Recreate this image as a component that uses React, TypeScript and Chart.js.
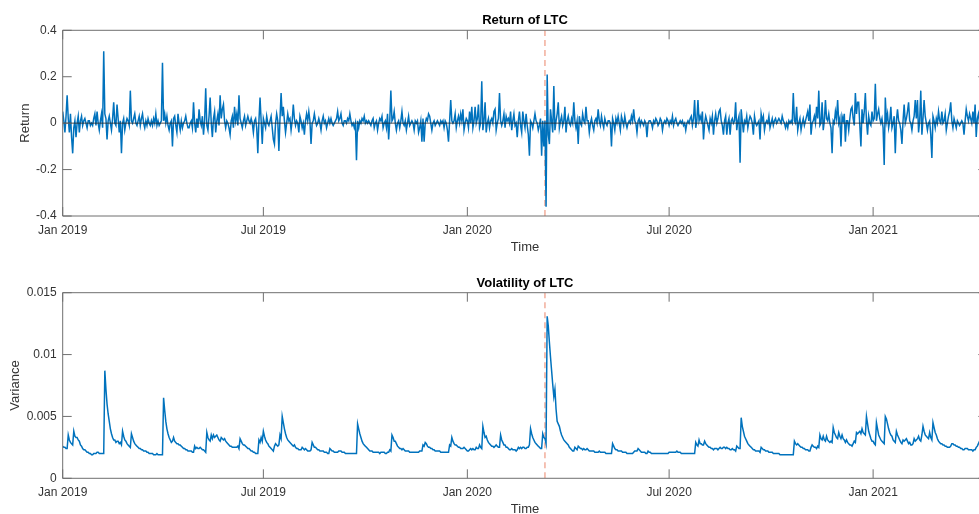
import React, { useEffect, useRef } from 'react';
import { Chart, registerables } from 'chart.js';

Chart.register(...registerables);

// ---- data (daily, day 0 = 1 Jan 2019) ----
const xTickDays = [0, 181, 365, 547, 731];
const xTickLabels = ['Jan 2019', 'Jul 2019', 'Jan 2020', 'Jul 2020', 'Jan 2021'];
const xMaxDay = 834;
const eventDay = 435; // 11 Mar 2020
const returnTicks = [-0.4, -0.2, 0, 0.2, 0.4];
const varianceTicks = [0, 0.005, 0.01, 0.015];

const returns = [
  0.05, 0.01, -0.04, 0.03, 0.12, 0.02, -0.04, 0.04, -0.06, -0.13,
  -0.02, 0.01, -0.06, 0.00, 0.03, -0.04, 0.01, 0.03, -0.01, 0.01,
  0.02, 0.00, -0.02, 0.01, 0.01, -0.01, 0.00, -0.01, 0.02, 0.04,
  -0.01, 0.05, 0.00, -0.03, 0.01, 0.04, -0.02, 0.31, 0.04, 0.02,
  -0.07, 0.01, 0.03, 0.00, -0.03, 0.02, 0.09, 0.00, -0.01, 0.08,
  0.02, -0.04, 0.01, -0.13, 0.00, 0.02, -0.03, 0.00, 0.02, 0.01,
  -0.01, 0.14, 0.01, 0.00, 0.02, 0.04, 0.00, -0.01, 0.01, 0.03,
  -0.01, 0.02, 0.04, 0.00, -0.02, 0.01, -0.01, 0.02, 0.00, -0.01,
  0.01, -0.01, 0.02, 0.00, 0.04, -0.01, 0.01, -0.01, 0.00, 0.01,
  0.26, 0.01, 0.04, 0.00, 0.03, -0.01, -0.03, 0.00, 0.01, -0.10,
  0.02, 0.03, -0.01, -0.04, 0.04, 0.00, -0.03, 0.01, -0.02, 0.00,
  0.01, 0.03, 0.00, -0.02, -0.02, 0.00, 0.01, -0.02, 0.09, 0.00,
  -0.04, 0.02, -0.02, 0.06, 0.01, -0.01, 0.03, -0.05, 0.01, 0.15,
  -0.01, -0.03, 0.03, 0.11, 0.00, -0.06, 0.02, 0.05, -0.04, 0.01,
  0.04, -0.01, 0.12, 0.02, 0.06, 0.08, 0.01, -0.02, 0.01, 0.00,
  -0.02, -0.05, 0.01, 0.03, -0.02, 0.07, 0.01, 0.04, -0.01, 0.12,
  0.02, 0.00, -0.02, 0.01, 0.03, -0.01, 0.01, 0.03, 0.01, 0.00,
  0.02, 0.00, -0.04, 0.01, 0.02, -0.02, -0.13, 0.01, 0.11, 0.01,
  -0.09, 0.02, 0.00, -0.02, 0.03, 0.00, -0.01, 0.01, 0.03, -0.02,
  -0.07, -0.09, 0.00, 0.04, 0.01, -0.12, 0.02, 0.13, 0.03, 0.07,
  0.01, -0.04, 0.00, 0.04, 0.01, 0.02, -0.03, 0.01, 0.08, 0.02,
  -0.01, 0.01, 0.00, -0.04, 0.03, 0.01, -0.02, 0.00, -0.05, 0.01,
  0.04, 0.01, 0.05, 0.01, -0.09, 0.00, 0.01, 0.04, 0.01, -0.01,
  0.00, 0.02, 0.00, -0.03, 0.01, 0.03, 0.00, 0.01, -0.02, 0.00,
  0.02, 0.00, 0.02, 0.00, -0.01, 0.00, 0.01, 0.02, 0.05, 0.01,
  0.02, 0.04, 0.00, -0.01, 0.01, 0.01, 0.00, 0.02, 0.01, 0.04,
  0.01, -0.01, 0.00, -0.02, 0.00, -0.16, 0.01, -0.02, 0.01, 0.00,
  0.02, 0.01, 0.03, 0.00, 0.01, 0.00, 0.01, 0.00, -0.01, 0.01,
  0.02, -0.02, 0.00, 0.01, -0.03, 0.00, 0.02, 0.01, 0.03, -0.02,
  0.00, 0.01, -0.02, 0.04, -0.07, 0.01, 0.14, 0.01, 0.02, 0.05,
  0.00, -0.03, 0.00, 0.01, -0.02, 0.01, 0.05, 0.00, -0.01, 0.01,
  -0.03, 0.00, 0.03, -0.01, 0.00, 0.01, 0.00, -0.03, 0.01, 0.00,
  0.01, -0.04, -0.02, 0.01, -0.08, 0.02, -0.08, 0.00, 0.02, 0.01,
  0.04, 0.03, 0.00, -0.03, 0.00, 0.01, -0.01, 0.00, 0.01, 0.00,
  -0.01, 0.01, 0.00, 0.01, -0.02, 0.01, 0.00, -0.03, -0.08, 0.01,
  0.10, 0.01, 0.00, 0.01, 0.04, -0.02, 0.01, 0.03, 0.00, 0.04,
  0.01, 0.06, -0.03, 0.00, 0.02, 0.01, -0.02, 0.05, 0.00, 0.07,
  -0.02, 0.01, 0.07, 0.00, 0.02, 0.08, -0.02, 0.00, 0.18, -0.03,
  0.01, 0.09, -0.04, 0.00, 0.02, -0.02, 0.01, 0.02, 0.00, 0.05,
  0.06, -0.03, 0.00, 0.02, 0.13, 0.01, -0.01, 0.01, 0.04, -0.02,
  0.03, 0.01, 0.02, 0.00, 0.05, -0.03, 0.01, 0.04, -0.01, 0.00,
  -0.06, 0.01, 0.05, -0.01, -0.04, 0.05, 0.01, -0.02, 0.04, -0.01,
  -0.05, -0.14, 0.01, 0.00, -0.02, 0.01, 0.04, 0.01, 0.00, -0.03,
  -0.01, 0.02, -0.14, 0.01, -0.10, 0.01, -0.36, 0.21, -0.05, -0.09,
  0.06, 0.01, -0.04, 0.16, -0.03, 0.01, 0.04, 0.09, -0.02, 0.01,
  0.03, -0.01, 0.01, 0.07, -0.04, 0.01, 0.03, 0.00, -0.01, 0.02,
  0.00, 0.09, 0.01, -0.02, 0.01, -0.09, 0.03, 0.00, -0.01, 0.04,
  0.01, 0.00, 0.07, 0.01, 0.01, -0.04, 0.00, 0.02, -0.01, -0.03,
  0.01, 0.02, 0.00, 0.06, 0.01, -0.01, 0.03, 0.00, -0.02, 0.02,
  0.00, -0.01, 0.01, 0.01, 0.00, -0.10, 0.02, 0.00, -0.03, 0.02,
  0.00, 0.03, 0.00, -0.03, 0.03, 0.01, -0.01, 0.03, 0.00, -0.02,
  0.00, 0.01, 0.00, 0.03, 0.01, 0.06, 0.01, 0.00, -0.04, 0.01,
  0.02, -0.01, 0.01, 0.00, -0.01, 0.01, 0.00, -0.06, 0.00, 0.01,
  0.01, 0.00, -0.02, 0.01, 0.00, 0.02, 0.01, -0.01, 0.00, 0.02,
  0.01, -0.03, 0.00, 0.01, 0.00, 0.02, 0.01, -0.01, 0.01, 0.00,
  0.03, -0.01, 0.01, 0.02, 0.00, -0.01, 0.00, 0.01, 0.00, 0.01,
  -0.01, 0.00, -0.03, 0.00, 0.01, 0.00, 0.02, 0.03, -0.01, 0.02,
  0.10, -0.02, 0.01, 0.10, 0.01, 0.03, 0.01, 0.05, -0.07, 0.00,
  0.03, 0.01, -0.01, -0.03, 0.02, 0.00, 0.03, -0.05, 0.01, 0.04,
  0.00, 0.02, 0.05, 0.06, 0.01, -0.01, -0.05, 0.01, 0.03, -0.05,
  0.00, 0.02, -0.05, 0.01, 0.02, 0.00, 0.01, 0.09, -0.03, 0.01,
  0.03, -0.17, 0.06, 0.01, -0.04, 0.01, 0.00, 0.03, -0.02, 0.01,
  0.03, 0.02, 0.00, -0.05, 0.03, 0.00, -0.01, 0.00, 0.01, -0.07,
  0.04, 0.01, 0.03, -0.03, 0.00, 0.01, 0.00, 0.03, -0.02, 0.00,
  0.02, -0.01, 0.01, 0.02, 0.00, 0.01, 0.02, 0.01, 0.00, 0.03,
  0.01, 0.00, -0.02, 0.00, -0.02, 0.01, 0.00, 0.01, 0.00, 0.13,
  0.01, 0.00, 0.07, -0.03, 0.00, 0.02, -0.03, 0.00, 0.02, -0.01,
  0.01, 0.03, 0.05, 0.01, 0.08, -0.05, 0.00, 0.01, 0.03, 0.00,
  0.07, 0.02, 0.14, -0.01, 0.00, 0.09, -0.03, 0.01, 0.10, 0.02,
  0.01, 0.04, 0.00, -0.02, -0.13, 0.01, 0.00, 0.05, 0.02, 0.10,
  0.00, 0.02, -0.10, 0.03, 0.01, 0.04, -0.08, 0.01, 0.01, -0.03,
  0.02, 0.06, 0.07, 0.02, -0.01, 0.13, 0.04, 0.09, 0.09, -0.01,
  -0.10, 0.06, 0.00, 0.05, 0.13, 0.01, -0.05, 0.03, 0.00, -0.01,
  0.05, 0.01, 0.02, 0.17, 0.01, 0.04, 0.06, 0.02, 0.00, 0.02,
  -0.02, -0.18, 0.11, 0.01, 0.04, -0.02, 0.01, 0.07, -0.02, 0.00,
  0.03, -0.13, 0.01, 0.06, 0.01, 0.00, -0.03, -0.09, 0.01, 0.08,
  0.00, 0.02, 0.05, 0.09, 0.01, 0.00, -0.03, 0.01, 0.03, 0.10,
  0.02, 0.10, -0.04, 0.01, 0.14, -0.05, 0.02, 0.10, 0.03, 0.00,
  -0.03, 0.00, 0.01, -0.05, -0.15, 0.03, 0.01, -0.02, 0.02, 0.00,
  0.05, 0.01, 0.00, 0.05, 0.00, 0.01, 0.04, -0.03, 0.00, 0.03,
  0.05, 0.09, 0.01, -0.02, 0.02, 0.00, -0.02, 0.01, 0.00, -0.01,
  0.00, 0.01, 0.00, -0.05, 0.01, 0.06, 0.03, 0.01, 0.04, 0.02,
  0.00, 0.05, 0.00, 0.08, -0.06, 0.02, 0.04, 0.00, 0.03, -0.02,
  0.02, 0.03, -0.01, 0.02, 0.01,
];

const variance = [
  0.0026, 0.0025, 0.0025, 0.0024, 0.0024, 0.0035, 0.0031, 0.0029, 0.0028, 0.0027,
  0.0038, 0.0034, 0.0033, 0.0033, 0.0031, 0.0030, 0.0027, 0.0026, 0.0024, 0.0023,
  0.0023, 0.0022, 0.0021, 0.0021, 0.0020, 0.0020, 0.0019, 0.0019, 0.0020, 0.0020,
  0.0020, 0.0021, 0.0021, 0.0020, 0.0020, 0.0020, 0.0020, 0.0020, 0.0087, 0.0072,
  0.0060, 0.0052, 0.0046, 0.0040, 0.0036, 0.0033, 0.0031, 0.0031, 0.0029, 0.0030,
  0.0030, 0.0028, 0.0029, 0.0027, 0.0038, 0.0034, 0.0031, 0.0030, 0.0028, 0.0027,
  0.0026, 0.0025, 0.0036, 0.0033, 0.0030, 0.0028, 0.0027, 0.0026, 0.0025, 0.0024,
  0.0024, 0.0023, 0.0023, 0.0022, 0.0022, 0.0022, 0.0021, 0.0021, 0.0020, 0.0020,
  0.0020, 0.0020, 0.0019, 0.0019, 0.0019, 0.0020, 0.0019, 0.0019, 0.0019, 0.0019,
  0.0019, 0.0065, 0.0055, 0.0046, 0.0040, 0.0036, 0.0033, 0.0031, 0.0029, 0.0030,
  0.0033, 0.0030, 0.0029, 0.0028, 0.0028, 0.0027, 0.0027, 0.0026, 0.0025, 0.0024,
  0.0024, 0.0023, 0.0023, 0.0022, 0.0022, 0.0022, 0.0022, 0.0021, 0.0021, 0.0026,
  0.0024, 0.0025, 0.0024, 0.0024, 0.0025, 0.0024, 0.0023, 0.0023, 0.0022, 0.0021,
  0.0037, 0.0033, 0.0031, 0.0030, 0.0035, 0.0032, 0.0035, 0.0033, 0.0034, 0.0035,
  0.0033, 0.0031, 0.0030, 0.0033, 0.0032, 0.0031, 0.0032, 0.0030, 0.0029, 0.0028,
  0.0027, 0.0026, 0.0026, 0.0025, 0.0025, 0.0025, 0.0025, 0.0025, 0.0026, 0.0024,
  0.0032, 0.0030, 0.0028, 0.0027, 0.0027, 0.0026, 0.0025, 0.0024, 0.0024, 0.0023,
  0.0022, 0.0022, 0.0021, 0.0021, 0.0020, 0.0020, 0.0020, 0.0031, 0.0029, 0.0033,
  0.0030, 0.0038, 0.0034, 0.0031, 0.0029, 0.0028, 0.0026, 0.0025, 0.0024, 0.0023,
  0.0022, 0.0026, 0.0028, 0.0027, 0.0026, 0.0027, 0.0035, 0.0032, 0.0050, 0.0045,
  0.0040, 0.0036, 0.0033, 0.0031, 0.0030, 0.0029, 0.0028, 0.0027, 0.0026, 0.0027,
  0.0025, 0.0024, 0.0024, 0.0023, 0.0023, 0.0023, 0.0025, 0.0024, 0.0023, 0.0024,
  0.0023, 0.0022, 0.0022, 0.0022, 0.0023, 0.0029, 0.0027, 0.0025, 0.0025, 0.0024,
  0.0023, 0.0023, 0.0022, 0.0022, 0.0022, 0.0022, 0.0021, 0.0021, 0.0021, 0.0020,
  0.0020, 0.0024, 0.0023, 0.0022, 0.0022, 0.0021, 0.0021, 0.0021, 0.0021, 0.0022,
  0.0022, 0.0022, 0.0021, 0.0021, 0.0021, 0.0020, 0.0020, 0.0020, 0.0020, 0.0020,
  0.0020, 0.0020, 0.0020, 0.0020, 0.0020, 0.0020, 0.0044, 0.0040, 0.0036, 0.0033,
  0.0030, 0.0028, 0.0027, 0.0026, 0.0025, 0.0024, 0.0023, 0.0022, 0.0022, 0.0022,
  0.0021, 0.0021, 0.0021, 0.0021, 0.0021, 0.0021, 0.0020, 0.0021, 0.0021, 0.0021,
  0.0021, 0.0020, 0.0020, 0.0021, 0.0021, 0.0023, 0.0022, 0.0035, 0.0033, 0.0030,
  0.0030, 0.0028, 0.0026, 0.0025, 0.0024, 0.0024, 0.0023, 0.0024, 0.0023, 0.0022,
  0.0022, 0.0022, 0.0022, 0.0021, 0.0021, 0.0021, 0.0021, 0.0021, 0.0021, 0.0021,
  0.0021, 0.0021, 0.0022, 0.0022, 0.0022, 0.0027, 0.0026, 0.0029, 0.0028, 0.0026,
  0.0025, 0.0025, 0.0024, 0.0024, 0.0023, 0.0023, 0.0022, 0.0022, 0.0022, 0.0022,
  0.0022, 0.0021, 0.0021, 0.0021, 0.0021, 0.0021, 0.0021, 0.0021, 0.0021, 0.0027,
  0.0026, 0.0033, 0.0030, 0.0028, 0.0027, 0.0027, 0.0026, 0.0025, 0.0025, 0.0024,
  0.0024, 0.0024, 0.0025, 0.0024, 0.0023, 0.0022, 0.0022, 0.0023, 0.0024, 0.0023,
  0.0024, 0.0023, 0.0023, 0.0025, 0.0024, 0.0024, 0.0027, 0.0025, 0.0024, 0.0042,
  0.0037, 0.0033, 0.0034, 0.0031, 0.0029, 0.0028, 0.0027, 0.0026, 0.0026, 0.0025,
  0.0026, 0.0027, 0.0026, 0.0025, 0.0025, 0.0035, 0.0031, 0.0029, 0.0027, 0.0027,
  0.0025, 0.0025, 0.0024, 0.0023, 0.0023, 0.0024, 0.0023, 0.0023, 0.0023, 0.0022,
  0.0023, 0.0025, 0.0024, 0.0025, 0.0024, 0.0025, 0.0025, 0.0024, 0.0024, 0.0025,
  0.0025, 0.0027, 0.0040, 0.0036, 0.0033, 0.0031, 0.0029, 0.0028, 0.0027, 0.0026,
  0.0025, 0.0024, 0.0024, 0.0036, 0.0033, 0.0032, 0.0028, 0.0131, 0.0123, 0.0110,
  0.0098, 0.0087, 0.0076, 0.0066, 0.0072, 0.0056, 0.0046, 0.0044, 0.0042, 0.0038,
  0.0035, 0.0033, 0.0031, 0.0030, 0.0029, 0.0028, 0.0027, 0.0025, 0.0024, 0.0023,
  0.0022, 0.0022, 0.0025, 0.0024, 0.0023, 0.0026, 0.0025, 0.0024, 0.0024, 0.0023,
  0.0024, 0.0023, 0.0023, 0.0024, 0.0023, 0.0022, 0.0022, 0.0022, 0.0022, 0.0022,
  0.0021, 0.0021, 0.0021, 0.0021, 0.0022, 0.0021, 0.0021, 0.0021, 0.0021, 0.0021,
  0.0020, 0.0020, 0.0020, 0.0020, 0.0020, 0.0020, 0.0028, 0.0026, 0.0024, 0.0023,
  0.0023, 0.0022, 0.0022, 0.0022, 0.0022, 0.0021, 0.0021, 0.0021, 0.0021, 0.0020,
  0.0020, 0.0020, 0.0020, 0.0020, 0.0020, 0.0021, 0.0022, 0.0022, 0.0022, 0.0024,
  0.0023, 0.0022, 0.0021, 0.0021, 0.0021, 0.0021, 0.0020, 0.0020, 0.0022, 0.0021,
  0.0021, 0.0020, 0.0020, 0.0020, 0.0020, 0.0020, 0.0020, 0.0020, 0.0020, 0.0020,
  0.0020, 0.0020, 0.0020, 0.0020, 0.0020, 0.0020, 0.0020, 0.0021, 0.0021, 0.0021,
  0.0021, 0.0021, 0.0021, 0.0021, 0.0022, 0.0021, 0.0021, 0.0021, 0.0020, 0.0020,
  0.0020, 0.0020, 0.0020, 0.0020, 0.0020, 0.0020, 0.0020, 0.0020, 0.0020, 0.0020,
  0.0020, 0.0029, 0.0027, 0.0026, 0.0031, 0.0028, 0.0028, 0.0027, 0.0027, 0.0030,
  0.0028, 0.0027, 0.0026, 0.0025, 0.0025, 0.0024, 0.0024, 0.0023, 0.0024, 0.0024,
  0.0024, 0.0023, 0.0024, 0.0025, 0.0024, 0.0024, 0.0025, 0.0025, 0.0024, 0.0025,
  0.0024, 0.0024, 0.0023, 0.0023, 0.0024, 0.0023, 0.0023, 0.0022, 0.0026, 0.0025,
  0.0024, 0.0024, 0.0049, 0.0042, 0.0038, 0.0034, 0.0032, 0.0030, 0.0028, 0.0027,
  0.0026, 0.0025, 0.0024, 0.0023, 0.0023, 0.0022, 0.0022, 0.0022, 0.0022, 0.0021,
  0.0025, 0.0024, 0.0023, 0.0023, 0.0022, 0.0022, 0.0022, 0.0021, 0.0021, 0.0021,
  0.0021, 0.0020, 0.0020, 0.0020, 0.0020, 0.0020, 0.0020, 0.0019, 0.0019, 0.0019,
  0.0019, 0.0019, 0.0019, 0.0019, 0.0019, 0.0019, 0.0019, 0.0019, 0.0019, 0.0019,
  0.0030, 0.0028, 0.0027, 0.0028, 0.0027, 0.0026, 0.0025, 0.0025, 0.0024, 0.0024,
  0.0023, 0.0023, 0.0023, 0.0022, 0.0022, 0.0025, 0.0027, 0.0026, 0.0025, 0.0025,
  0.0024, 0.0026, 0.0025, 0.0035, 0.0032, 0.0031, 0.0034, 0.0031, 0.0030, 0.0034,
  0.0031, 0.0030, 0.0029, 0.0030, 0.0029, 0.0041, 0.0037, 0.0035, 0.0033, 0.0032,
  0.0037, 0.0034, 0.0032, 0.0035, 0.0032, 0.0031, 0.0029, 0.0031, 0.0029, 0.0028,
  0.0027, 0.0027, 0.0026, 0.0028, 0.0030, 0.0029, 0.0037, 0.0036, 0.0037, 0.0038,
  0.0036, 0.0040, 0.0037, 0.0036, 0.0035, 0.0050, 0.0044, 0.0038, 0.0035, 0.0032,
  0.0030, 0.0030, 0.0028, 0.0027, 0.0045, 0.0040, 0.0035, 0.0033, 0.0031, 0.0030,
  0.0029, 0.0028, 0.0050, 0.0048, 0.0044, 0.0040, 0.0037, 0.0035, 0.0034, 0.0031,
  0.0030, 0.0029, 0.0038, 0.0035, 0.0033, 0.0031, 0.0029, 0.0028, 0.0031, 0.0030,
  0.0031, 0.0032, 0.0030, 0.0028, 0.0029, 0.0027, 0.0027, 0.0028, 0.0032, 0.0030,
  0.0031, 0.0032, 0.0034, 0.0031, 0.0030, 0.0035, 0.0042, 0.0038, 0.0035, 0.0034,
  0.0033, 0.0032, 0.0037, 0.0033, 0.0031, 0.0045, 0.0041, 0.0037, 0.0035, 0.0032,
  0.0030, 0.0029, 0.0028, 0.0028, 0.0027, 0.0027, 0.0026, 0.0026, 0.0025, 0.0025,
  0.0025, 0.0026, 0.0028, 0.0028, 0.0027, 0.0027, 0.0026, 0.0026, 0.0025, 0.0025,
  0.0024, 0.0024, 0.0023, 0.0023, 0.0024, 0.0024, 0.0024, 0.0023, 0.0023, 0.0023,
  0.0023, 0.0022, 0.0023, 0.0023, 0.0025, 0.0026, 0.0028, 0.0030, 0.0029, 0.0031,
  0.0030, 0.0029, 0.0028, 0.0028, 0.0027,
];

const FONT = '"Liberation Sans", Arial, Helvetica, sans-serif';
const LINE_BLUE = '#0072BD';
const AXIS_GRAY = '#6f6f6f';
const TEXT_GRAY = '#333333';

const matlabAxes = {
  id: 'matlabAxes',
  afterDraw(chart: any, _args: any, opts: any) {
    const { ctx, chartArea: a, scales } = chart;
    const xs = scales.x;
    const ys = scales.y;
    const tl = 9;
    ctx.save();
    ctx.strokeStyle = AXIS_GRAY;
    ctx.lineWidth = 1;
    ctx.beginPath();
    ctx.rect(a.left, a.top, a.right - a.left, a.bottom - a.top);
    for (const t of xs.ticks) {
      const px = xs.getPixelForValue(t.value);
      ctx.moveTo(px, a.bottom);
      ctx.lineTo(px, a.bottom - tl);
      ctx.moveTo(px, a.top);
      ctx.lineTo(px, a.top + tl);
    }
    for (const t of ys.ticks) {
      const py = ys.getPixelForValue(t.value);
      ctx.moveTo(a.left, py);
      ctx.lineTo(a.left + tl, py);
      ctx.moveTo(a.right, py);
      ctx.lineTo(a.right - tl, py);
    }
    ctx.stroke();

    // title
    ctx.fillStyle = '#000';
    ctx.font = `bold 13px ${FONT}`;
    ctx.textAlign = 'center';
    ctx.textBaseline = 'middle';
    ctx.fillText(opts.title, (a.left + a.right) / 2, a.top - 9.5);

    // x label
    ctx.fillStyle = TEXT_GRAY;
    ctx.font = `13px ${FONT}`;
    ctx.fillText(opts.xLabel, (a.left + a.right) / 2, a.bottom + 31.5);

    // y label
    ctx.translate(opts.yLabelX, (a.top + a.bottom) / 2);
    ctx.rotate(-Math.PI / 2);
    ctx.fillText(opts.yLabel, 0, 0);
    ctx.restore();
  },
};

type PanelProps = {
  series: number[];
  yTicks: number[];
  title: string;
  yLabel: string;
  yLabelX: number;
  zeroLine: boolean;
  top: number;
  height: number;
  padTop: number;
  xAxisHeight: number;
};

function Panel(p: PanelProps) {
  const ref = useRef<HTMLCanvasElement>(null);
  useEffect(() => {
    if (!ref.current) return;
    const yMin = p.yTicks[0];
    const yMax = p.yTicks[p.yTicks.length - 1];
    const datasets: any[] = [];
    if (p.zeroLine) {
      datasets.push({
        data: [{ x: 0, y: 0 }, { x: xMaxDay, y: 0 }],
        borderColor: '#262626',
        borderWidth: 0.8,
        pointRadius: 0,
      });
    }
    datasets.push({
      data: p.series.map((v, i) => ({ x: i, y: v })),
      borderColor: LINE_BLUE,
      borderWidth: 1.5,
      pointRadius: 0,
      tension: 0,
    });
    datasets.push({
      data: [{ x: eventDay, y: yMin }, { x: eventDay, y: yMax }],
      borderColor: 'rgba(232,120,88,0.7)',
      borderWidth: 1.3,
      borderDash: [6, 4],
      pointRadius: 0,
    });

    const chart = new Chart(ref.current, {
      type: 'line',
      data: { datasets },
      plugins: [matlabAxes],
      options: {
        animation: false,
        responsive: false,
        devicePixelRatio: 1,
        layout: { padding: { left: 0, right: 12.7, top: p.padTop, bottom: 0 } },
        plugins: {
          legend: { display: false },
          tooltip: { enabled: false },
          title: { display: false },
          matlabAxes: { title: p.title, xLabel: 'Time', yLabel: p.yLabel, yLabelX: p.yLabelX },
        } as any,
        scales: {
          x: {
            type: 'linear',
            min: 0,
            max: xMaxDay,
            afterBuildTicks: (s: any) => {
              s.ticks = xTickDays.map((v) => ({ value: v }));
            },
            afterFit: (s: any) => {
              s.height = p.xAxisHeight;
            },
            ticks: {
              autoSkip: false,
              maxRotation: 0,
              minRotation: 0,
              padding: 7,
              color: TEXT_GRAY,
              font: { family: FONT, size: 12 },
              callback: (v: any) => {
                const k = xTickDays.indexOf(Number(v));
                return k >= 0 ? xTickLabels[k] : '';
              },
            },
            grid: { display: false, drawTicks: false },
            border: { display: false },
          },
          y: {
            type: 'linear',
            min: yMin,
            max: yMax,
            afterBuildTicks: (s: any) => {
              s.ticks = p.yTicks.map((v) => ({ value: v }));
            },
            afterFit: (s: any) => {
              s.width = 62.7;
            },
            ticks: {
              padding: 6,
              color: TEXT_GRAY,
              font: { family: FONT, size: 12 },
              callback: (v: any) => String(v),
            },
            grid: { display: false, drawTicks: false },
            border: { display: false },
          },
        },
      } as any,
    });
    return () => chart.destroy();
  }, []);
  return (
    <canvas
      ref={ref}
      width={1000}
      height={p.height}
      style={{ position: 'absolute', left: 0, top: p.top, width: 1000, height: p.height, display: 'block' }}
    />
  );
}

export default function App() {
  return (
    <div
      style={{
        position: 'absolute',
        left: 0,
        top: 0,
        width: 979,
        height: 514,
        overflow: 'hidden',
        background: '#fff',
      }}
    >
      <Panel
        series={returns}
        yTicks={returnTicks}
        title="Return of LTC"
        yLabel="Return"
        yLabelX={25}
        zeroLine={true}
        top={0}
        height={260}
        padTop={30.3}
        xAxisHeight={44}
      />
      <Panel
        series={variance}
        yTicks={varianceTicks}
        title="Volatility of LTC"
        yLabel="Variance"
        yLabelX={15}
        zeroLine={false}
        top={250}
        height={264}
        padTop={42.7}
        xAxisHeight={35.7}
      />
    </div>
  );
}
